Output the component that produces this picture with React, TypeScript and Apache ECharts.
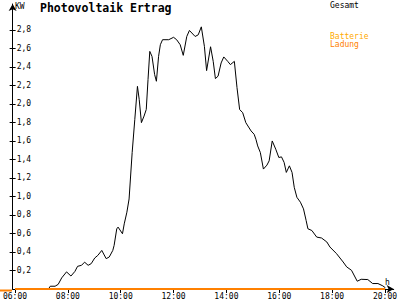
import React, { useEffect, useRef } from "react";
import * as echarts from "echarts";

const times = [
  "06:00", "07:16", "07:20", "07:31", "07:38", "07:46", "07:57", "08:07", "08:16", "08:22",
  "08:31", "08:38", "08:46", "08:53", "09:01", "09:08", "09:17", "09:27", "09:34", "09:42",
  "09:45", "09:51", "09:54", "10:04", "10:08", "10:14", "10:19", "10:26", "10:32", "10:38",
  "10:42", "10:47", "10:53", "10:58", "11:02", "11:06", "11:11", "11:17", "11:21", "11:26",
  "11:30", "11:35", "11:49", "12:00", "12:07", "12:15", "12:22", "12:30", "12:36", "12:49",
  "12:56", "13:03", "13:10", "13:15", "13:24", "13:30", "13:35", "13:41", "13:48", "13:54",
  "14:03", "14:09", "14:18", "14:24", "14:30", "14:37", "14:44", "14:56", "15:03", "15:07",
  "15:11", "15:17", "15:24", "15:32", "15:37", "15:44", "15:52", "15:59", "16:05", "16:11",
  "16:16", "16:23", "16:29", "16:34", "16:40", "16:48", "16:55", "17:01", "17:05", "17:14",
  "17:25", "17:36", "17:48", "17:55", "18:10", "18:25", "18:33", "18:44", "18:57", "19:06",
  "19:21", "19:32", "19:44", "19:55", "20:01"
];
const gesamt = [
  0, 0, 0.03, 0.03, 0.05, 0.12, 0.185, 0.14, 0.19, 0.245,
  0.256, 0.29, 0.256, 0.274, 0.335, 0.363, 0.417, 0.328, 0.346, 0.417,
  0.471, 0.65, 0.669, 0.597, 0.704, 0.83, 0.973, 1.475, 1.833, 2.19,
  2.048, 1.798, 1.869, 1.94, 2.263, 2.568, 2.514, 2.317, 2.245, 2.514,
  2.64, 2.694, 2.694, 2.72, 2.694, 2.64, 2.525, 2.729, 2.794, 2.729,
  2.747, 2.833, 2.622, 2.36, 2.618, 2.46, 2.274, 2.3, 2.443, 2.508,
  2.46, 2.425, 2.46, 2.177, 1.94, 1.905, 1.798, 1.708, 1.672, 1.618,
  1.546, 1.475, 1.296, 1.339, 1.385, 1.6, 1.511, 1.421, 1.428, 1.368,
  1.26, 1.331, 1.26, 1.099, 0.991, 0.938, 0.866, 0.74, 0.651, 0.632,
  0.561, 0.551, 0.508, 0.454, 0.382, 0.292, 0.239, 0.202, 0.084, 0.105,
  0.102, 0.059, 0.059, 0.034, 0.013
];
const batterieTimes = ["06:00", "20:00"];
const batterie = [0, 0];
const ladungTimes = ["06:00", "20:00"];
const ladung = [0, 0];
const xTickLabels = ["06:00", "08:00", "10:00", "12:00", "14:00", "16:00", "18:00", "20:00"];
const yTickValues = [0.2, 0.4, 0.6, 0.8, 1.0, 1.2, 1.4, 1.6, 1.8, 2.0, 2.2, 2.4, 2.6, 2.8];

const toHour = (t: string) => {
  const [h, m] = t.split(":").map(Number);
  return h + m / 60;
};
const pairs = (ts: string[], vs: number[]) => ts.map((t, i) => [toHour(t), vs[i]]);

const FONT = "DejaVu Sans Mono";

export default function App() {
  const ref = useRef<HTMLDivElement>(null);
  useEffect(() => {
    if (!ref.current) return;
    const chart = echarts.init(ref.current, undefined, { renderer: "svg" });
    const xTicks = xTickLabels.map(toHour);
    chart.setOption({
      animation: false,
      backgroundColor: "#ffffff",
      grid: { left: 12, right: 2, top: 4, bottom: 9.5, containLabel: false },
      xAxis: {
        type: "value",
        min: 5.91,
        max: 20.33,
        axisLine: {
          show: true,
          lineStyle: { color: "#000", width: 1 },
          symbol: ["none", "arrow"],
          symbolSize: [6, 7],
        },
        axisTick: { show: true, customValues: xTicks, length: 4, lineStyle: { color: "#000" } },
        axisLabel: {
          customValues: xTicks,
          margin: 3,
          fontFamily: FONT,
          fontSize: 8,
          color: "#000",
          formatter: (v: number) => String(Math.round(v)).padStart(2, "0") + ":00",
        },
        splitLine: { show: false },
      },
      yAxis: [
        {
          type: "value",
          min: 0,
          max: 3.08,
          axisLine: {
            show: true,
            lineStyle: { color: "#000", width: 1 },
            symbol: ["none", "arrow"],
            symbolSize: [6, 7],
          },
          axisTick: { show: true, customValues: yTickValues, length: 3, lineStyle: { color: "#000" } },
          axisLabel: {
            customValues: yTickValues,
            inside: true,
            margin: 4,
            fontFamily: FONT,
            fontSize: 8,
            color: "#000",
            formatter: (v: number) => v.toFixed(1).replace(".", ","),
          },
          splitLine: { show: false },
        },
        {
          type: "value",
          min: 0,
          max: 3.08,
          position: "left",
          axisLine: { show: false },
          axisTick: { show: true, inside: true, customValues: yTickValues, length: 3, lineStyle: { color: "#000" } },
          axisLabel: { show: false },
          splitLine: { show: false },
        },
      ],
      series: [
        {
          name: "Gesamt",
          type: "line",
          data: pairs(times, gesamt),
          showSymbol: false,
          lineStyle: { color: "#000", width: 1 },
          z: 3,
        },
        {
          name: "Batterie",
          type: "line",
          data: pairs(batterieTimes, batterie),
          showSymbol: false,
          lineStyle: { color: "#ffaa00", width: 2 },
          z: 4,
        },
        {
          name: "Ladung",
          type: "line",
          data: pairs(ladungTimes, ladung),
          showSymbol: false,
          lineStyle: { color: "#ff8000", width: 2 },
          z: 5,
        },
      ],
      graphic: [
        { type: "line", shape: { x1: 0, y1: 290.5, x2: 12, y2: 290.5 }, style: { stroke: "#ff8000", lineWidth: 2 }, z: 10 },
        { type: "text", left: 40, top: 2, style: { text: "Photovoltaik Ertrag", font: `bold 11.5px "${FONT}"`, fill: "#000" } },
        { type: "text", left: 15, top: 2, style: { text: "KW", font: `8px "${FONT}"`, fill: "#000" } },
        { type: "text", left: 330, top: 1, style: { text: "Gesamt", font: `8px "${FONT}"`, fill: "#000" } },
        { type: "text", left: 330, top: 32, style: { text: "Batterie", font: `8px "${FONT}"`, fill: "#ffaa00" } },
        { type: "text", left: 330, top: 40, style: { text: "Ladung", font: `8px "${FONT}"`, fill: "#ff8000" } },
        { type: "text", left: 385, top: 278, style: { text: "h", font: `8px "${FONT}"`, fill: "#000" } },
      ],
    });
    return () => chart.dispose();
  }, []);
  return <div ref={ref} style={{ width: 400, height: 300, position: "absolute", left: 0, top: 0 }} />;
}
